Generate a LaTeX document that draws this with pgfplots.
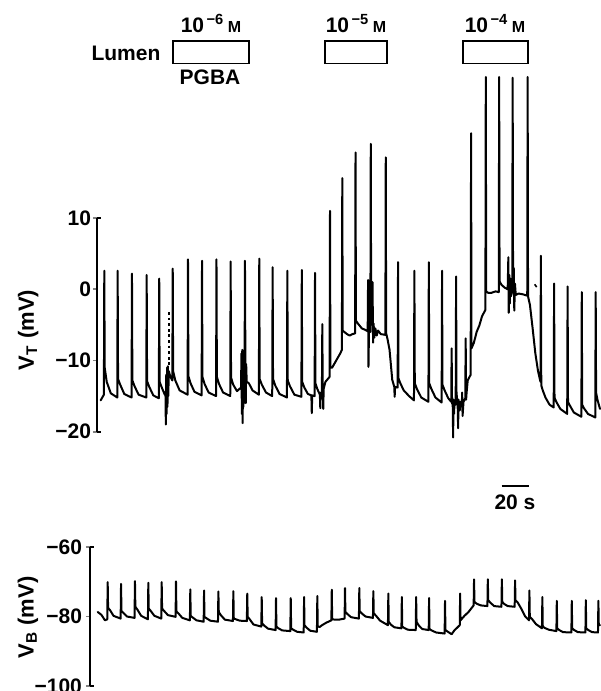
\documentclass[border=0pt]{standalone}
\usepackage{fontspec}
\setmainfont{Liberation Sans}
\usepackage{pgfplots}
\pgfplotsset{compat=1.18}

\pgfplotsset{
  trace/.style={black, line width=1pt, line join=round, line cap=round},
  traceaxis/.style={
    scale only axis,
    axis y line*=left, hide x axis,
    y axis line style={-, line width=0.9pt},
    tick align=outside,
    major tick length=2pt,
    ytick style={line width=0.9pt},
    y tick label style={font=\bfseries\fontsize{10.5}{12}\selectfont},
    ylabel style={font=\bfseries\fontsize{11}{13}\selectfont, anchor=center},
    clip=false,
  },
}

\begin{document}
\begin{tikzpicture}
\useasboundingbox (0,0) rectangle (300pt,-345.5pt);

% ---------- top trace, V_T ----------
\begin{axis}[traceaxis,
  at={(48.5pt,-215.85pt)}, anchor=south west,
  width=251.5pt, height=106.85pt,
  xmin=-2.2, xmax=370.4, ymin=-20, ymax=10,
  ytick={-20,-10,0,10}, yticklabels={−20,−10,0,10},
  y tick label style={xshift=2.5pt},
  ylabel={V\textsubscript{T} (mV)},
  ylabel style={at={(axis description cs:-0.137,0.476)}},
]
\addplot[trace] coordinates {
(0.5,-15.6) (2.9,-14.8)
(3.2,2.6) (3.5,-11.0) (5.0,-13.0) (8.0,-14.6) (12.8,-15.2)
(13.1,2.6) (13.4,-12.6) (15.0,-13.4) (18.0,-14.7) (23.4,-15.2)
(23.7,2.2) (24.0,-12.8) (25.6,-13.6) (28.6,-14.8) (34.3,-15.2)
(34.6,2.0) (34.9,-12.9) (36.5,-13.7) (39.5,-14.9) (43.6,-15.3)
(43.9,1.5) (44.2,-13.0) (45.8,-13.8) (48.0,-14.8)
(48.5,-14.4) (48.8,-19.0) (49.1,-12.0) (49.4,-17.5) (49.7,-11.0) (50.0,-16.5) (50.3,-10.8) (50.6,-15.0) (51.0,-11.5) (52.0,-12.2) (53.6,-12.8)
(53.9,2.9) (54.2,-11.5) (55.8,-12.8) (59.0,-14.2) (64.9,-14.8)
(65.2,4.2) (65.5,-12.2) (67.1,-13.2) (70.0,-14.4) (75.3,-14.9)
(75.6,4.0) (75.9,-12.3) (77.5,-13.3) (80.5,-14.5) (86.0,-15.0)
(86.3,4.2) (86.6,-12.3) (88.2,-13.3) (91.2,-14.5) (96.5,-15.0)
(96.8,3.9) (97.1,-12.4) (98.7,-13.4) (101.5,-14.3) (104.5,-13.8)
(104.8,-9.0) (105.1,-17.5) (105.4,-8.5) (105.7,-18.8) (106.0,-9.5) (106.3,-16.5) (106.6,-10.0) (106.9,-15.0) (107.1,-12.5)
(107.4,4.0) (107.7,-9.5) (108.0,-16.0) (108.3,-10.5) (108.7,-13.0) (110.3,-13.2) (113.0,-14.2) (117.7,-14.8)
(118.0,4.3) (118.3,-12.6) (119.9,-13.4) (123.0,-14.5) (127.6,-15.0)
(127.9,3.1) (128.2,-12.6) (129.8,-13.5) (133.0,-14.7) (138.5,-15.2)
(138.8,2.6) (139.1,-12.8) (140.7,-13.6) (144.0,-14.8) (149.2,-15.1)
(149.5,2.7) (149.8,-13.0) (151.4,-13.8) (154.0,-14.7) (156.6,-14.9) (156.9,-17.4) (157.2,-14.9) (159.0,-15.0)
(159.3,2.3) (159.6,-13.2) (161.0,-14.0) (162.9,-14.8) (163.2,-16.7) (163.5,-14.6) (164.4,-14.4) (164.7,-4.9) (165.0,-14.0) (165.4,-16.8) (165.7,-14.0) (167.0,-13.0) (170.1,-12.3)
(170.4,11.0) (170.7,-11.0) (172.0,-11.0) (175.0,-10.0) (178.0,-9.0) (179.2,-8.5)
(179.5,15.6) (179.8,-5.8) (181.0,-6.0) (183.0,-6.3) (185.0,-6.5) (187.0,-6.3) (189.0,-6.2)
(189.3,19.2) (189.6,-4.4) (191.0,-4.8) (194.0,-5.5) (196.5,-5.7) (198.3,-5.9) (198.6,1.3) (198.9,-10.9) (199.3,-5.5) (200.3,-6.0)
(200.6,20.4) (200.9,-5.0) (201.5,-4.5) (201.9,1.0) (202.3,-7.5) (202.7,-4.8) (203.2,-6.8) (204.0,-5.5) (205.0,-6.5) (206.0,-5.8) (208.0,-6.3) (211.4,-6.4)
(211.7,18.5) (212.0,-6.2) (213.0,-7.0) (214.5,-8.5) (216.5,-12.7) (218.0,-13.7) (218.3,-15.1) (218.6,-13.7) (220.5,-13.8)
(220.8,3.8) (221.1,-12.5) (222.5,-13.2) (225.0,-14.2) (229.0,-15.0) (232.6,-15.6)
(232.9,2.6) (233.2,-13.2) (234.8,-14.0) (238.0,-15.2) (243.3,-15.8)
(243.6,3.8) (243.9,-13.2) (245.5,-14.0) (248.5,-15.2) (253.1,-15.9)
(253.4,2.6) (253.7,-13.4) (255.3,-14.2) (258.0,-15.3) (260.2,-15.8) (260.5,-8.3) (260.8,-16.0) (261.3,-16.2) (261.6,-20.8) (261.9,-15.5) (262.3,-17.5) (262.6,-15.8) (263.5,-16.2)
(263.8,1.8) (264.1,-14.5) (265.0,-16.5) (265.3,-19.5) (265.6,-15.5) (266.5,-17.0) (267.0,-15.8) (268.0,-16.5) (268.3,-14.5) (268.6,-17.8) (269.3,-15.8) (270.6,-15.3) (270.9,-6.9) (271.2,-15.5) (271.6,-14.5) (272.4,-12.8) (274.6,-12.0)
(274.9,21.9) (275.2,-8.3) (277.0,-7.5) (279.0,-6.0) (281.0,-5.1) (283.0,-3.8) (285.5,-2.9)
(285.8,29.8) (286.1,-0.3) (287.5,-0.5) (290.0,-0.5) (293.0,-0.3) (295.4,-0.4)
(295.7,29.8) (296.0,1.1) (297.5,0.6) (300.0,0.2) (302.0,0.0) (302.5,4.5) (302.8,-3.3) (303.2,2.0) (303.6,-2.0) (304.0,1.5) (304.4,-1.0) (305.4,-0.3)
(305.7,29.7) (306.0,0.5) (306.5,3.0) (306.9,-3.0) (307.4,0.8) (308.0,-0.8) (310.0,-0.6) (313.0,-0.7) (316.5,-0.9)
(316.8,29.8) (317.1,-1.0) (318.5,-2.2) (320.5,-5.5) (322.5,-9.0) (324.5,-11.5) (326.3,-13.0)
(326.6,4.7) (326.9,-13.5) (328.0,-14.2) (330.0,-15.2) (333.0,-16.2) (336.1,-16.6)
(336.4,0.8) (336.7,-15.2) (338.0,-15.8) (341.0,-16.8) (346.1,-17.5)
(346.4,0.4) (346.7,-15.8) (348.0,-16.3) (351.0,-17.3) (356.6,-17.9)
(356.9,-0.4) (357.2,-16.2) (358.5,-16.7) (361.5,-17.5) (366.9,-18.0)
(367.2,-0.4) (367.5,-14.5) (368.5,-15.5) (370.4,-16.8)
};
% dotted artefact and small dash
\addplot[black, line width=0.8pt, dash pattern=on 1.4pt off 1.4pt] coordinates {(51.1,-3.2) (51.1,-10.9)};
\addplot[black, line width=0.8pt] coordinates {(322.0,0.7) (323.5,0.3)};

% end serifs of the scale
\draw[line width=0.9pt] (axis cs:-2.2,10) -- ([xshift=2pt]axis cs:-2.2,10);
\draw[line width=0.9pt] (axis cs:-2.2,-20) -- ([xshift=2pt]axis cs:-2.2,-20);

% PGBA application bars
\draw[line width=0.9pt] (axis cs:54.1,31.7) rectangle (axis cs:110.4,34.8);
\draw[line width=0.9pt] (axis cs:166.7,31.7) rectangle (axis cs:212.7,34.8);
\draw[line width=0.9pt] (axis cs:269.0,31.7) rectangle (axis cs:317.1,34.8);

% 20 s time bar
\draw[line width=0.9pt] (axis cs:297.6,-27.6) -- (axis cs:317.6,-27.6);
\end{axis}

% ---------- bottom trace, V_B ----------
\begin{axis}[traceaxis,
  at={(45pt,-343pt)}, anchor=south west,
  width=255pt, height=69.5pt,
  xmin=-7.4, xmax=370.4, ymin=-100, ymax=-60,
  ytick={-100,-80,-60}, yticklabels={−100,−80,−60},
  y tick label style={xshift=1.5pt},
  ylabel={V\textsubscript{B} (mV)},
  ylabel style={at={(axis description cs:-0.1216,0.493)}},
]
\addplot[trace] coordinates {
(-1.7,-78.7) (1.0,-79.5) (3.7,-81.1) (5.4,-80.8)
(5.7,-70.1) (6.0,-77.5) (7.5,-78.2) (10.0,-79.8) (15.3,-80.6)
(15.6,-70.6) (15.9,-78.4) (17.4,-79.0) (20.0,-80.0) (25.6,-80.4)
(25.9,-69.8) (26.2,-77.2) (27.7,-78.0) (30.5,-79.8) (35.5,-80.8)
(35.8,-70.3) (36.1,-77.7) (37.6,-78.4) (40.3,-79.8) (45.4,-80.6)
(45.7,-70.1) (46.0,-77.7) (47.5,-78.4) (50.3,-79.6) (56.0,-80.1)
(56.3,-69.9) (56.6,-78.5) (58.1,-79.1) (61.0,-80.4) (66.6,-81.1)
(66.9,-72.2) (67.2,-79.8) (68.7,-80.3) (71.5,-81.1) (76.8,-81.5)
(77.1,-72.5) (77.4,-80.1) (78.9,-80.5) (81.7,-81.2) (87.4,-81.5)
(87.7,-72.8) (88.0,-78.7) (89.5,-79.6) (92.5,-80.9) (98.5,-81.3)
(98.8,-72.7) (99.1,-80.6) (100.6,-80.8) (103.5,-81.2) (108.8,-81.3)
(109.1,-73.4) (109.4,-80.1) (110.9,-80.8) (113.7,-82.3) (119.5,-82.9)
(119.8,-74.4) (120.1,-82.0) (121.6,-82.6) (124.5,-83.5) (130.1,-83.9)
(130.4,-74.7) (130.7,-82.9) (132.2,-83.4) (135.0,-84.0) (141.0,-84.2)
(141.3,-74.7) (141.6,-83.4) (143.1,-83.8) (146.0,-84.4) (150.9,-84.6)
(151.2,-74.4) (151.5,-82.5) (153.0,-83.2) (155.8,-84.1) (160.7,-84.4)
(161.0,-74.1) (161.3,-82.9) (162.8,-83.0) (164.5,-82.5) (167.5,-81.8) (171.4,-81.1)
(171.7,-72.3) (172.0,-80.8) (174.0,-80.9) (177.0,-80.9) (181.2,-80.6)
(181.5,-71.8) (181.8,-78.7) (183.3,-79.3) (186.0,-80.2) (191.8,-80.6)
(192.1,-71.8) (192.4,-78.5) (193.9,-79.1) (196.7,-80.0) (202.2,-80.4)
(202.5,-72.7) (202.8,-79.1) (204.3,-79.7) (207.5,-81.2) (213.3,-82.5)
(213.6,-73.4) (213.9,-81.5) (215.4,-82.3) (218.0,-83.1) (223.3,-83.4)
(223.6,-74.4) (223.9,-82.9) (225.4,-83.3) (228.0,-83.8) (233.9,-83.9)
(234.2,-74.4) (234.5,-81.5) (236.0,-82.5) (238.7,-83.6) (243.5,-83.9)
(243.8,-74.7) (244.1,-83.6) (245.6,-84.0) (249.0,-84.6) (255.3,-84.9)
(255.6,-75.5) (255.9,-83.9) (257.4,-84.3) (260.5,-85.1) (262.5,-84.0) (266.5,-82.5)
(266.8,-73.4) (267.1,-81.1) (270.0,-79.8) (273.0,-78.7) (276.8,-76.8)
(277.1,-69.3) (277.4,-75.8) (279.0,-76.3) (282.0,-76.8) (287.0,-77.0)
(287.3,-69.3) (287.6,-75.3) (289.1,-76.0) (292.0,-77.0) (297.4,-77.2)
(297.7,-69.3) (298.0,-75.8) (299.5,-76.4) (302.0,-77.0) (307.2,-77.2)
(307.5,-69.6) (307.8,-75.3) (309.5,-76.0) (312.0,-77.7) (315.0,-80.0) (317.8,-81.1)
(318.1,-72.5) (318.4,-80.1) (320.0,-80.7) (323.0,-82.2) (327.4,-83.4)
(327.7,-74.4) (328.0,-82.9) (329.5,-83.3) (332.5,-83.8) (338.1,-84.2)
(338.4,-75.5) (338.7,-83.4) (340.2,-83.9) (343.0,-84.5) (349.2,-84.6)
(349.5,-75.5) (349.8,-83.4) (351.3,-83.9) (354.0,-84.5) (359.6,-84.6)
(359.9,-75.3) (360.2,-83.4) (361.7,-83.9) (364.5,-84.5) (368.9,-84.6)
(369.2,-75.5) (369.5,-82.5) (370.4,-82.5)
};
\draw[line width=0.9pt] (axis cs:-7.4,-60) -- ([xshift=2pt]axis cs:-7.4,-60);
\draw[line width=0.9pt] (axis cs:-7.4,-100) -- ([xshift=2pt]axis cs:-7.4,-100);
\end{axis}

% ---------- annotations ----------
\begin{scope}[every node/.style={font=\bfseries\fontsize{10.5}{12}\selectfont, inner sep=0pt}]
\node at (63pt,-26.5pt) {Lumen};
\node at (105pt,-38.5pt) {PGBA};
\node[anchor=base] at (105.5pt,-16pt) {10\textsuperscript{\,−6}\,{\fontsize{8}{9}\selectfont M}};
\node[anchor=base] at (178pt,-16pt) {10\textsuperscript{\,−5}\,{\fontsize{8}{9}\selectfont M}};
\node[anchor=base] at (247.5pt,-16pt) {10\textsuperscript{\,−4}\,{\fontsize{8}{9}\selectfont M}};
\node at (257.5pt,-251pt) {20 s};
\end{scope}
\end{tikzpicture}
\end{document}
